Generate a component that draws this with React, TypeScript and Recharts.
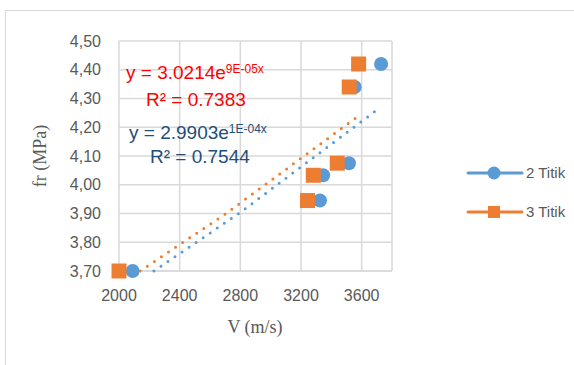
import React from "react";
import {
  ScatterChart,
  Scatter,
  XAxis,
  YAxis,
  CartesianGrid,
  Legend,
} from "recharts";

// values
const xTicks = [2000, 2400, 2800, 3200, 3600];
const yTicks = [3.7, 3.8, 3.9, 4.0, 4.1, 4.2, 4.3, 4.4, 4.5];

const duaTitik = [
  { x: 2090, y: 3.7 },
  { x: 3325, y: 3.945 },
  { x: 3346, y: 4.033 },
  { x: 3516, y: 4.075 },
  { x: 3554, y: 4.34 },
  { x: 3728, y: 4.42 },
];

const tigaTitik = [
  { x: 2000, y: 3.7 },
  { x: 3243, y: 3.945 },
  { x: 3281, y: 4.033 },
  { x: 3439, y: 4.075 },
  { x: 3518, y: 4.34 },
  { x: 3580, y: 4.42 },
];

// trendline endpoints as drawn (clipped at the axis minimum)
const trendDua = [
  { x: 2230, y: 3.7 },
  { x: 2790, y: 3.9 },
  { x: 3690, y: 4.256 },
];
const trendTiga = [
  { x: 2140, y: 3.7 },
  { x: 2700, y: 3.898 },
  { x: 3568, y: 4.235 },
];

const BLUE = "#5B9BD5";
const ORANGE = "#ED7D31";
const GRID = "#D9D9D9";
const TEXT = "#595959";
const FONT = "'Liberation Sans', Arial, sans-serif";

const Circle = (props: any) => (
  <circle cx={props.cx} cy={props.cy} r={7} fill={BLUE} />
);
const Square = (props: any) => (
  <rect x={props.cx - 7.5} y={props.cy - 7.5} width={15} height={15} fill={ORANGE} />
);
const NoDot = () => <g />;

const LegendBox = () => (
  <svg width={110} height={70} style={{ overflow: "visible", display: "block" }}>
    {[
      { name: "2 Titik", color: BLUE, y: 15 },
      { name: "3 Titik", color: ORANGE, y: 54 },
    ].map((row, i) => (
      <g key={row.name}>
        <line x1={6} x2={60} y1={row.y} y2={row.y} stroke={row.color} strokeWidth={3} strokeLinecap="round" />
        {i === 0 ? (
          <circle cx={32} cy={row.y} r={6.5} fill={row.color} />
        ) : (
          <rect x={26} y={row.y - 6} width={12} height={12} fill={row.color} />
        )}
        <text x={64} y={row.y} dy="0.35em" fill={TEXT} fontSize={15} fontFamily={FONT}>
          {row.name}
        </text>
      </g>
    ))}
  </svg>
);

const App: React.FC = () => {
  const fmt = (v: number) => v.toFixed(2).replace(".", ",");
  return (
    <div style={{ position: "absolute", left: 0, top: 0, width: 574, height: 365, overflow: "hidden", background: "#fff" }}>
      <div
        style={{
          position: "absolute",
          left: 5,
          top: 10,
          width: 640,
          height: 420,
          border: `1px solid ${GRID}`,
        }}
      />
      <ScatterChart
        width={574}
        height={365}
        margin={{ top: 41, right: 72, bottom: 64, left: 0 }}
        style={{ position: "absolute", left: 0, top: 0 }}
      >
        <CartesianGrid stroke={GRID} strokeWidth={1.5} />
        <XAxis
          type="number"
          dataKey="x"
          domain={[2000, 3800]}
          ticks={xTicks}
          interval={0}
          height={30}
          axisLine={{ stroke: GRID, strokeWidth: 1.5 }}
          tickLine={false}
          tickSize={0}
          tickMargin={19}
          tick={{ fill: TEXT, fontSize: 16, fontFamily: FONT }}
        />
        <YAxis
          type="number"
          dataKey="y"
          domain={[3.7, 4.5]}
          ticks={yTicks}
          interval={0}
          width={119}
          axisLine={false}
          tickLine={false}
          tickSize={0}
          tickMargin={18}
          tickFormatter={fmt}
          tick={{ fill: TEXT, fontSize: 16, fontFamily: FONT }}
        />
        <Scatter
          data={trendDua}
          shape={NoDot}
          line={{ stroke: BLUE, strokeWidth: 3, strokeDasharray: "0 8.5", strokeLinecap: "round" }}
          lineType="joint"
          isAnimationActive={false}
          legendType="none"
        />
        <Scatter
          data={trendTiga}
          shape={NoDot}
          line={{ stroke: ORANGE, strokeWidth: 3, strokeDasharray: "0 8.5", strokeLinecap: "round" }}
          lineType="joint"
          isAnimationActive={false}
          legendType="none"
        />
        <Scatter name="2 Titik" data={duaTitik} shape={Circle} isAnimationActive={false} />
        <Scatter name="3 Titik" data={tigaTitik} shape={Square} isAnimationActive={false} />
        <Legend
          layout="vertical"
          align="right"
          verticalAlign="middle"
          width={110}
          height={70}
          content={() => <LegendBox />}
          wrapperStyle={{ position: "absolute", left: 462, top: 158, width: 110, height: 70 }}
        />
      </ScatterChart>
      <svg
        width={574}
        height={365}
        style={{ position: "absolute", left: 0, top: 0, pointerEvents: "none" }}
      >
        <g fontFamily={FONT} fontSize={19}>
          <text x={126} y={79} fill="#FF0000">
            y = 3.0214e<tspan fontSize={12} dy={-6}>9E-05x</tspan>
          </text>
          <text x={146} y={106} fill="#FF0000">
            R² = 0.7383
          </text>
          <text x={129} y={139} fill="#1F4E79">
            y = 2.9903e<tspan fontSize={12} dy={-6}>1E-04x</tspan>
          </text>
          <text x={150} y={163} fill="#1F4E79">
            R² = 0.7544
          </text>
        </g>
        <text
          x={255}
          y={327}
          dy="0.35em"
          textAnchor="middle"
          fill={TEXT}
          fontSize={18}
          fontFamily="'Liberation Serif', 'Times New Roman', serif"
        >
          V (m/s)
        </text>
        <text
          transform="translate(40,156) rotate(-90)"
          dy="0.35em"
          textAnchor="middle"
          fill={TEXT}
          fontSize={18}
          fontFamily="'Liberation Serif', 'Times New Roman', serif"
        >
          fr (MPa)
        </text>
      </svg>
    </div>
  );
};

export default App;
